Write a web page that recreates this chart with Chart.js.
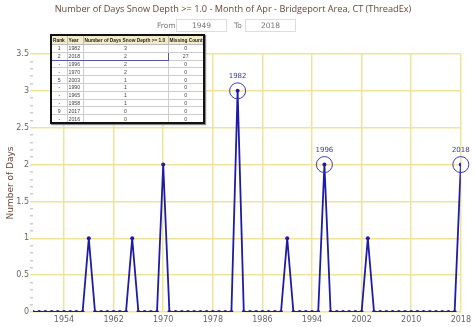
<!DOCTYPE html>
<html>
<head>
<meta charset="utf-8">
<script src="https://cdn.jsdelivr.net/npm/chart.js@4/dist/chart.umd.min.js"></script>
<style>
  body { margin: 0; background: #fff; font-family: "DejaVu Sans", Verdana, sans-serif; }
  #wrap { position: relative; width: 474px; height: 327px; overflow: hidden; }
  #snow-chart { position: absolute; left: 0; top: 0; }
  #title { position: absolute; left: 0; top: 2px; width: 466px; text-align: center; font-family: "Open Sans", sans-serif; font-size: 9.2px; color: #6b4535; white-space: nowrap; }
  #range { position: absolute; top: 19px; left: 0; width: 474px; height: 13px; font-size: 7.5px; color: #777; }
  #range span { position: absolute; top: 2px; }
  #range .box { position: absolute; top: 0; width: 49px; height: 11px; border: 1px solid #ddd; text-align: center; line-height: 11px; color: #777; }
  #rank { position: absolute; left: 50px; top: 34px; border-collapse: collapse; border: 2px solid #111; background: #fff;
          font-family: "Liberation Sans", Arial, sans-serif; font-size: 5.2px; table-layout: fixed; width: 153px; box-shadow: 1px 1px 1px #888; }
  #rank th { background: #f4ecc8; font-weight: bold; font-size: 4.8px; color: #222; height: 8px; padding: 0 1px; border: 1px solid #bbb; white-space: nowrap; overflow: hidden; text-align: left; }
  #rank td { height: 6.8px; padding: 0 1px; border: 1px solid #ccc; color: #444; white-space: nowrap; overflow: hidden; line-height: 6px; }
  #rank td.c { text-align: center; }
  #rank td.hl { border-top: 1.5px solid #5656a6; border-bottom: 1.5px solid #5656a6; }
  #rank td.hl-l { border-left: 1.5px solid #5656a6; }
  #rank td.hl-r { border-right: 1.5px solid #5656a6; }
</style>
</head>
<body>
<div id="wrap">
  <canvas id="snow-chart" width="474" height="327"></canvas>
  <div id="title">Number of Days Snow Depth &gt;= 1.0 - Month of Apr - Bridgeport Area, CT (ThreadEx)</div>
  <div id="range">
    <span style="left:157px">From</span><div class="box" style="left:176px">1949</div>
    <span style="left:234px">To</span><div class="box" style="left:245px">2018</div>
  </div>
  <table id="rank">
    <colgroup><col style="width:16px"><col style="width:16px"><col style="width:85px"><col style="width:36px"></colgroup>
    <thead><tr><th>Rank</th><th>Year</th><th>Number of Days Snow Depth &gt;= 1.0</th><th>Missing Count</th></tr></thead>
    <tbody id="rank-body"></tbody>
  </table>
</div>
<script>
const years = [1949, 1950, 1951, 1952, 1953, 1954, 1955, 1956, 1957, 1958,
               1959, 1960, 1961, 1962, 1963, 1964, 1965, 1966, 1967, 1968,
               1969, 1970, 1971, 1972, 1973, 1974, 1975, 1976, 1977, 1978,
               1979, 1980, 1981, 1982, 1983, 1984, 1985, 1986, 1987, 1988,
               1989, 1990, 1991, 1992, 1993, 1994, 1995, 1996, 1997, 1998,
               1999, 2000, 2001, 2002, 2003, 2004, 2005, 2006, 2007, 2008,
               2009, 2010, 2011, 2012, 2013, 2014, 2015, 2016, 2017, 2018];
const snowDays = [0, 0, 0, 0, 0, 0, 0, 0, 0, 1,
                  0, 0, 0, 0, 0, 0, 1, 0, 0, 0,
                  0, 2, 0, 0, 0, 0, 0, 0, 0, 0,
                  0, 0, 0, 3, 0, 0, 0, 0, 0, 0,
                  0, 1, 0, 0, 0, 0, 0, 2, 0, 0,
                  0, 0, 0, 0, 1, 0, 0, 0, 0, 0,
                  0, 0, 0, 0, 0, 0, 0, 0, 0, 2];
const missingCount = [0, 0, 0, 0, 0, 0, 0, 0, 0, 0,
                      0, 0, 0, 0, 0, 0, 0, 0, 0, 0,
                      0, 0, 0, 0, 0, 0, 0, 0, 0, 0,
                      0, 0, 0, 0, 0, 0, 0, 0, 0, 0,
                      0, 0, 0, 0, 0, 0, 0, 0, 0, 0,
                      0, 0, 0, 0, 0, 0, 0, 0, 0, 0,
                      0, 0, 0, 0, 0, 0, 0, 0, 0, 27];
const xTickYears = [1954, 1962, 1970, 1978, 1986, 1994, 2002, 2010, 2018];
const circledYears = [1982, 1996, 2018];
const selectedYear = 2018;

// ranking table: highest first, latest year first on ties, ties shown as "-"
const ranked = years.map((y, i) => ({ year: y, days: snowDays[i], missing: missingCount[i] }))
  .sort((a, b) => b.days - a.days || b.year - a.year)
  .slice(0, 10);
const body = document.getElementById('rank-body');
ranked.forEach((r, i) => {
  const rank = (i > 0 && ranked[i - 1].days === r.days) ? '-' : String(i + 1);
  const hl = r.year === selectedYear;
  const tr = document.createElement('tr');
  tr.innerHTML =
    '<td class="c' + (hl ? ' hl hl-l' : '') + '">' + rank + '</td>' +
    '<td' + (hl ? ' class="hl"' : '') + '>' + r.year + '</td>' +
    '<td class="c' + (hl ? ' hl hl-r' : '') + '">' + r.days + '</td>' +
    '<td class="c">' + r.missing + '</td>';
  body.appendChild(tr);
});

const gridYellow = '#efe39a';
const isHalf = v => Math.abs(v * 2 - Math.round(v * 2)) < 1e-6;

// rings + year labels around the top years
const ringPlugin = {
  id: 'rings',
  afterDatasetsDraw(chart) {
    const { ctx, scales: { x, y } } = chart;
    ctx.save();
    circledYears.forEach(yr => {
      const v = snowDays[years.indexOf(yr)];
      const px = x.getPixelForValue(yr), py = y.getPixelForValue(v);
      ctx.beginPath();
      ctx.arc(px, py, 8, 0, Math.PI * 2);
      ctx.strokeStyle = '#3a3aae';
      ctx.lineWidth = 1;
      ctx.stroke();
      ctx.fillStyle = '#3a3aa8';
      ctx.font = '7px "DejaVu Sans", sans-serif';
      ctx.textAlign = 'center';
      ctx.textBaseline = 'bottom';
      ctx.fillText(String(yr), px, py - 11);
    });
    ctx.restore();
  }
};

new Chart(document.getElementById('snow-chart'), {
  type: 'line',
  data: {
    datasets: [{
      data: years.map((y, i) => ({ x: y, y: snowDays[i] })),
      borderColor: '#1c1ca8',
      backgroundColor: '#1c1ca8',
      borderWidth: 1.8,
      pointRadius: 2,
      pointBorderWidth: 0,
      tension: 0
    }]
  },
  options: {
    responsive: false,
    animation: false,
    layout: { padding: { left: 0, right: 12, top: 54, bottom: 0 } },
    plugins: { legend: { display: false }, tooltip: { enabled: false }, title: { display: false } },
    scales: {
      x: {
        type: 'linear',
        min: 1949,
        max: 2018,
        afterBuildTicks: s => { s.ticks = xTickYears.map(v => ({ value: v })); },
        afterFit: s => { s.height = 15; },
        border: { display: false },
        grid: { color: gridYellow, lineWidth: 1.5, drawTicks: false },
        ticks: { color: '#666', font: { size: 8, family: 'DejaVu Sans' }, padding: 3, maxRotation: 0, autoSkip: false,
                 callback: v => String(v) }
      },
      y: {
        min: 0,
        max: 3.5,
        afterFit: s => { s.width = 33; },
        border: { display: false },
        grid: {
          color: c => isHalf(c.tick.value) ? gridYellow : 'rgba(0,0,0,0)',
          tickColor: c => isHalf(c.tick.value) ? gridYellow : '#ccc',
          lineWidth: 1.5,
          tickLength: 3
        },
        ticks: {
          stepSize: 0.1,
          autoSkip: false,
          color: '#666',
          padding: 1,
          font: { size: 8, family: 'DejaVu Sans' },
          callback: v => isHalf(v) ? String(Math.round(v * 2) / 2) : ''
        },
        title: { display: true, text: 'Number of Days', color: '#6b4535', font: { size: 9, family: 'DejaVu Sans' }, padding: { top: 5, bottom: 0 } }
      }
    }
  },
  plugins: [ringPlugin]
});
</script>
</body>
</html>
